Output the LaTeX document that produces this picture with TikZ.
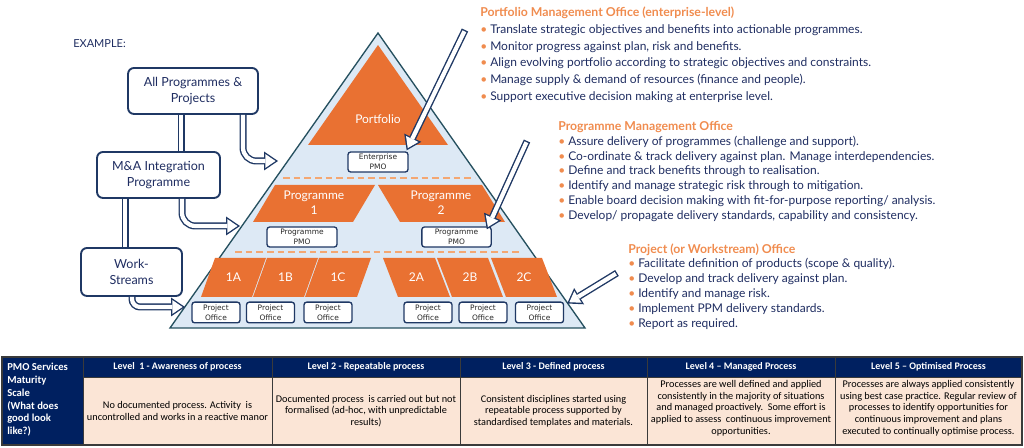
\documentclass[tikz,border=0pt]{standalone}
\usepackage{fontspec}
\setmainfont{Lato}
\newfontfamily\calib{Carlito}
\newfontfamily\dejav{DejaVu Sans}
\usetikzlibrary{arrows.meta,calc}
\definecolor{navyb}{HTML}{1F3864}
\definecolor{txtn}{HTML}{1F2D61}
\definecolor{orf}{HTML}{E97132}
\definecolor{ort}{HTML}{F08C4F}
\definecolor{lblue}{HTML}{DDE9F5}
\definecolor{tealo}{HTML}{25505F}
\definecolor{dashc}{HTML}{F4A772}
\definecolor{tnavy}{HTML}{002060}
\definecolor{peach}{HTML}{FBE5D6}
\definecolor{gridc}{HTML}{3A3A3A}
\definecolor{boxtxt}{HTML}{262626}
\newcommand\bul{\makebox[7.5pt][l]{\textcolor{ort}{\textbullet}}}
\begin{document}
\begin{tikzpicture}[x=0.75pt,y=-0.75pt,
  lbox/.style={draw=navyb, line width=1.4pt, fill=white, rounded corners=4.5pt, align=center, text=txtn, font=\fontsize{9.4pt}{12pt}\selectfont, inner sep=0pt},
  sbox/.style={draw=navyb, line width=1pt, fill=white, rounded corners=2pt, align=center, text=boxtxt, font=\dejav\fontsize{5.6pt}{7.6pt}\selectfont, inner sep=0pt},
  pyr/.style={fill=lblue, draw=tealo, line width=1pt, line join=miter},
  orshape/.style={fill=orf},
  wlab/.style={text=white, font=\fontsize{9pt}{11.25pt}\selectfont, align=center, inner sep=0pt},
  dashl/.style={draw=dashc, line width=1.3pt, dash pattern=on 5pt off 3pt},
  shout/.style={draw=navyb, line width=5.25pt},
  shin/.style={draw=white, line width=3.15pt},
  hdout/.style={-{Triangle[length=10.5pt 0 0,width=14.25pt 0 0,line width=0pt 0 0]}},
  hdin/.style={shorten >=1.87pt, -{Triangle[length=7.58pt 0 0,width=10.29pt 0 0,line width=0pt 0 0]}},
  btxt/.style={anchor=base west, inner sep=0pt, text=txtn, font=\fontsize{9pt}{10pt}\selectfont},
  ttl/.style={anchor=base west, inner sep=0pt, text=ort, font=\bfseries\fontsize{9.2pt}{10pt}\selectfont},
  hcell/.style={text=white, font=\calib\bfseries\fontsize{7.5pt}{8pt}\selectfont, inner sep=0pt},
  bcell/.style={text=black, align=center, font=\calib\fontsize{7.7pt}{8.8pt}\selectfont, inner sep=0pt},
  gridl/.style={draw=gridc, line width=0.7pt}
]
\useasboundingbox (0,0) rectangle (1024,448);

% ---------- pyramid ----------
\coordinate (apex) at (378,33);
\coordinate (bl) at (170,328);
\coordinate (br) at (585,328);
\draw[pyr] (apex) -- (br) -- (bl) -- cycle;
\fill[orshape] (378,45) -- (448,145) -- (308,145) -- cycle;
\node[wlab] (portfolio) at (378,119) {Portfolio};
\node[sbox, minimum width=45pt, minimum height=15pt] (ep) at (378,162) {Enterprise\\PMO};
\draw[dashl] (283,178) -- (475,178);
\fill[orshape] (275,185) -- (375,185) -- (353,222) -- (253,222) -- cycle;
\fill[orshape] (378,185) -- (482,185) -- (505,222) -- (400,222) -- cycle;
\node[wlab] (prog1) at (314,203) {Programme\\1};
\node[wlab] (prog2) at (441,203) {Programme\\2};
\node[sbox, minimum width=52.5pt, minimum height=15pt] (pmo1) at (302,237) {Programme\\PMO};
\node[sbox, minimum width=52pt, minimum height=15pt] (pmo2) at (456.5,237) {Programme\\PMO};
\draw[dashl] (235,252) -- (520,252);
\fill[orshape] (215,258) -- (266,258) -- (252,297) -- (201,297) -- cycle;
\fill[orshape] (267,258) -- (318,258) -- (304,297) -- (253,297) -- cycle;
\fill[orshape] (319,258) -- (371,258) -- (357,297) -- (305,297) -- cycle;
\fill[orshape] (383,258) -- (435,258) -- (450,297) -- (398,297) -- cycle;
\fill[orshape] (437,258) -- (488,258) -- (503,297) -- (452,297) -- cycle;
\fill[orshape] (491,258) -- (542,258) -- (557,297) -- (506,297) -- cycle;
\node[wlab] (w1a) at (233.5,277.5) {1A};
\node[wlab] (w1b) at (285.5,277.5) {1B};
\node[wlab] (w1c) at (338,277.5) {1C};
\node[wlab] (w2a) at (416.5,277.5) {2A};
\node[wlab] (w2b) at (470,277.5) {2B};
\node[wlab] (w2c) at (524,277.5) {2C};
\foreach \cx/\nm in {216/po1a,270.5/po1b,328/po1c,428/po2a,483/po2b,539.5/po2c}
  \node[sbox, minimum width=36pt, minimum height=15.5pt] (\nm) at (\cx,312.5) {Project\\Office};

% ---------- left side ----------
\node[anchor=west, inner sep=0pt, text=txtn, font=\fontsize{8.25pt}{10pt}\selectfont] (ex) at (73,44) {EXAMPLE:};
\node[lbox, minimum width=97.5pt, minimum height=34.5pt] (ap) at (193,91) {All Programmes \&\\Projects};
\node[lbox, minimum width=92.25pt, minimum height=34.5pt] (mai) at (158.5,175) {M\&A Integration\\Programme};
\node[lbox, minimum width=75.75pt, minimum height=36pt] (ws) at (131.5,272) {Work-\\Streams};

\coordinate (t1) at (278,161);
\coordinate (t2) at (240,226);
\coordinate (t3) at (185,307);
% vertical hollow links
\draw[shout] (ap.south -| 181,0) -- (mai.north -| 181,0);
\draw[shin]  (ap.south -| 181,0) -- (mai.north -| 181,0);
\draw[shout] (mai.south -| 125,0) -- (ws.north -| 125,0);
\draw[shin]  (mai.south -| 125,0) -- (ws.north -| 125,0);
% curved hollow arrows
\draw[shout, hdout, rounded corners=10pt] (ap.south -| 243,0) |- (t1);
\draw[shin, hdin, rounded corners=10pt] (ap.south -| 243,0) |- (t1);
\draw[shout, hdout, rounded corners=10pt] (mai.south -| 182,0) |- (t2);
\draw[shin, hdin, rounded corners=10pt] (mai.south -| 182,0) |- (t2);
\draw[shout, hdout, rounded corners=6pt] (ws.south -| 132,0) |- (t3);
\draw[shin, hdin, rounded corners=6pt] (ws.south -| 132,0) |- (t3);

% diagonal hollow arrows
\coordinate (d1) at (465,30);
\coordinate (d2) at (527,141);
\coordinate (d3) at (617,273);
\draw[shout, hdout] (d1) -- ($(ep.north east)+(-2,-1)$);
\draw[shin, hdin, shorten <=1.05pt] (d1) -- ($(ep.north east)+(-2,-1)$);
\draw[shout, hdout] (d2) -- ($(pmo2.north east)+(-5,3)$);
\draw[shin, hdin, shorten <=1.05pt] (d2) -- ($(pmo2.north east)+(-5,3)$);
\draw[shout, hdout] (d3) -- ($(po2c.north east)+(3,2)$);
\draw[shin, hdin, shorten <=1.05pt] (d3) -- ($(po2c.north east)+(3,2)$);

% ---------- text blocks ----------
\node[ttl] (pfT) at (480,16.5) {Portfolio Management Office (enterprise-level)};
\foreach \t [count=\i] in {Translate strategic objectives and benefits into actionable programmes., {Monitor progress against plan, risk and benefits.}, Align evolving portfolio according to strategic objectives and constraints., Manage supply \& demand of resources (finance and people)., Support executive decision making at enterprise level.}
  \node[btxt] (pa\i) at (480,{33.5+16.75*(\i-1)}) {\bul\t};

\node[ttl] (pgT) at (558,130.5) {Programme Management Office};
\foreach \t [count=\i] in {Assure delivery of programmes (challenge and support)., Co-ordinate \& track delivery against plan. Manage interdependencies., Define and track benefits through to realisation., Identify and manage strategic risk through to mitigation., Enable board decision making with fit-for-purpose reporting/ analysis., {Develop/ propagate delivery standards, capability and consistency.}}
  \node[btxt] (pb\i) at (558,{145.5+14.75*(\i-1)}) {\bul\t};

\node[ttl] (prT) at (628,253.5) {Project (or Workstream) Office};
\foreach \t [count=\i] in {Facilitate definition of products (scope \& quality)., Develop and track delivery against plan., Identify and manage risk., Implement PPM delivery standards., Report as required.}
  \node[btxt] (pc\i) at (628,{267.5+15*(\i-1)}) {\bul\t};

% ---------- table ----------
\fill[tnavy] (2,357) rectangle (1022,377);
\fill[tnavy] (2,377) rectangle (83,445);
\fill[peach] (83,377) rectangle (1022,445);
\foreach \xx in {83,272,460,647,835}
  \draw[gridl] (\xx,357) -- (\xx,445);
\draw[gridl] (83,377) -- (1022,377);
\draw[gridl, line width=0.9pt] (2,357) rectangle (1022,445);
\node[anchor=north west, inner sep=0pt, align=left, text=white, font=\calib\bfseries\fontsize{8pt}{9.6pt}\selectfont] (scale) at (7,363) {PMO Services\\Maturity\\Scale\\(What does\\good look\\like?)};
\node[hcell] (h1) at (177.5,367) {Level\ \ 1 - Awareness of process};
\node[hcell] (h2) at (366,367) {Level 2 - Repeatable process};
\node[hcell] (h3) at (553.5,367) {Level 3 - Defined process};
\node[hcell] (h4) at (741,367) {Level 4 – Managed Process};
\node[hcell] (h5) at (928.5,367) {Level 5 – Optimised Process};
\node[bcell] (b1) at (177.5,411) {No documented process. Activity\ \ is\\uncontrolled and works in a reactive manor};
\node[bcell] (b2) at (366,411) {Documented process\ \ is carried out but not\\formalised (ad-hoc, with unpredictable\\results)};
\node[bcell] (b3) at (553.5,411) {Consistent disciplines started using\\repeatable process supported by\\standardised templates and materials.};
\node[bcell] (b4) at (741,408) {Processes are well defined and applied\\consistently in the majority of situations\\and managed proactively.\ \ Some effort is\\applied to assess\ \ continuous improvement\\opportunities.};
\node[bcell] (b5) at (928.5,408) {Processes are always applied consistently\\using best case practice. Regular review of\\processes to identify opportunities for\\continuous improvement and plans\\executed to continually optimise process.};
\end{tikzpicture}
\end{document}
